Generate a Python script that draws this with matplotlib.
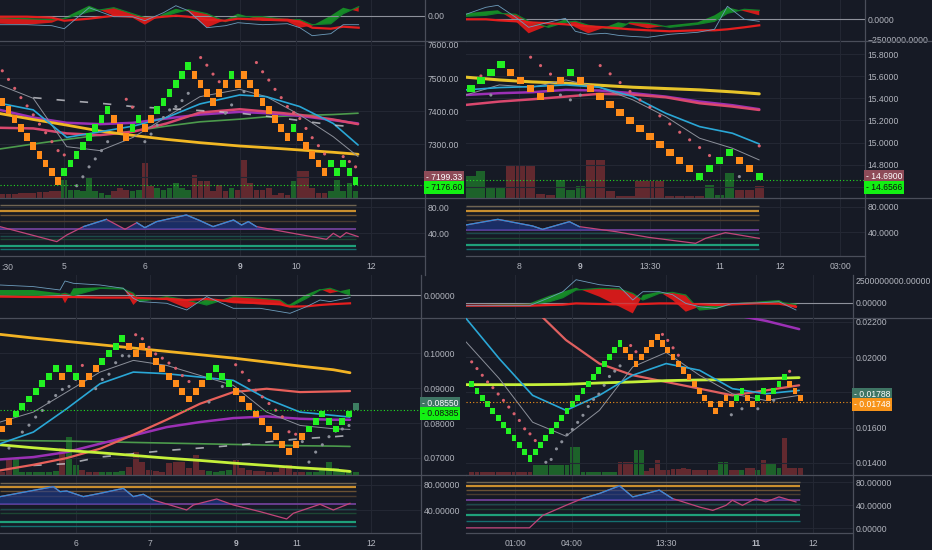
import numpy as np
import matplotlib
matplotlib.use("Agg")
import matplotlib.pyplot as plt
from matplotlib.lines import Line2D

nan = np.nan
W, H = 932, 550

BG = "#161a25"
GRID = "#232733"
SEP = "#4a4e5a"
TXT = "#b2b5be"
BRICK = {"g": "#22f022", "o": "#ff8c1a", "d": "#3d7e62"}
VOLC = {"g": "#1e6b2b", "o": "#6b2b31", "d": "#1e6b2b"}
PINK = "#d9606e"
GREYDOT = "#8b8f99"
BAND_COLORS = ["#6f6452", "#c98e2e", "#6b5234", "#4a3c30", "#6a3d8f",
               "#1c4a4a", "#1d4634", "#1fa07a", "#157070"]
BAND_LW = [1.0, 1.6, 1.0, 1.0, 1.4, 1.0, 1.0, 1.6, 1.0]

# ---------------- top left ----------------
tl_mid = [7429.0, 7402.3, 7375.6, 7348.9, 7322.2, 7295.5, 7268.8, 7242.1, 7215.4, 7188.7,
          7215.4, 7242.1, 7268.8, 7295.5, 7322.2, 7348.9, 7375.6, 7402.3,
          7375.6, 7348.9, 7322.2, 7348.9, 7375.6, 7348.9, 7375.6,
          7402.3, 7429.0, 7455.7, 7482.4, 7509.1, 7535.8,
          7509.1, 7482.4, 7455.7, 7429.0, 7455.7, 7482.4, 7509.1,
          7482.4, 7509.1, 7482.4, 7455.7, 7429.0, 7402.3, 7375.6, 7348.9, 7322.2,
          7348.9, 7322.2, 7295.5, 7268.8, 7242.1, 7215.4,
          7242.1, 7215.4, 7242.1, 7215.4, 7188.7]
tl_col = "oooooooooo" "gggggggg" "ooo" "gg" "oo" "gggggg" "oooo" "oog" "ooooooooo" "gooo" "oo" "ggggg"
tl_brick = 26.7
tl_sar = [7522, 7496, 7469, 7441, 7416, 7389, 7361, 7335, 7308, 7281, 7268, nan, 7175, 7202, 7232,
          7256, 7281, 7308, nan, nan, 7436, 7412, nan, 7308, 7331, 7358, 7381, 7404, 7414, 7432,
          7454, nan, 7562, 7539, 7512, 7489, 7394, 7419, nan, 7459, nan, 7547, 7519, 7494, 7466,
          7441, 7414, 7396, 7378, 7348, 7320, 7296, 7271, nan, nan, 7263, 7248, 7232]
tl_vol = [12, 12, 12, 14, 15, 15, 18, 18, 20, 20, 55, 25, 25, 20, 60, 20, 15, 10, 20, 30, 25, 20,
          25, 105, 35, 30, 25, 30, 45, 30, 25, 70, 50, 50, 20, 40, 20, 30, 25, 115, 45, 25, 25,
          30, 10, 15, 10, 50, 80, 80, 30, 15, 15, 20, 55, 20, 45, 20]
tl_ma_x = [-0.4, 5.0, 10.4, 15.8, 21.1, 26.5, 31.9, 38.3, 42.6, 48.0, 53.4, 57.4]
tl_ma_gold = [7393, 7375, 7358, 7340, 7327, 7315, 7305, 7295, 7290, 7283, 7276, 7270]
tl_ma_purple = [7404, 7381, 7365, 7361, 7365, 7378, 7390, 7398, 7394, 7386, 7373, 7363]
tl_ma_pink = [7350, 7348, 7333, 7328, 7338, 7363, 7396, 7406, 7399, 7389, 7375, 7361]
tl_ma_green = [7286, 7301, 7315, 7328, 7340, 7355, 7368, 7376, 7383, 7387, 7390, 7394]
tl_ma_blue = [7424, 7404, 7321, 7338, 7355, 7381, 7422, 7449, 7444, 7414, 7363, 7298]
tl_ma_grey = [7479, 7439, 7293, 7281, 7321, 7383, 7444, 7466, 7444, 7389, 7323, 7263]
tl_ma_white = [nan, 7441, 7432, 7424, 7414, 7408, 7402, 7394, 7385, 7372, 7358, 7352]
tl_macd_x = [-0.4, 4, 8, 10, 14, 18, 21, 23, 26, 28, 30, 33, 36, 38, 42, 46, 48, 50, 53, 55, 57.5]
tl_macd_f = [-8, -9, -7, -2, 10, 0, -2, -9, 2, 7, 4, -12, -4, 2, -5, -6, -12, -10, 0, 8, 4]
tl_macd_s = [-2, -3, -4, -3, 4, 8, 2, -2, -1, 3, 6, 2, -6, -1, -1, -4, -4, -9, -8, 2, 9]
tl_macd_r = [-1, -1, -2, -5, -3, 0, -1, -3, -1, 0, -1, -4, -5, -3, -4, -4, -6, -12, -13, -11, -12]
tl_macd_b = [-9, -9, -10, -13, 8, -1, -1, -5, 3, 10, 5, -12, -10, -7, -9, -8, -12, -20, -18, -9, -9]
tl_rsi_x = [-0.4, 8.8, 10.4, 13.1, 16.8, 19.8, 21.7, 23.0, 24.9, 29.7, 31.9, 34.0, 37.3, 38.6,
            39.7, 41.0, 46.9, 52.3, 53.4, 54.5, 55.5, 57.4]
tl_rsi = [50.3, 27.2, 37.4, 50.3, 61.5, 46.2, 56.4, 48.7, 58.0, 68.2, 59.5, 50.3, 60.5, 52.8,
          58.0, 50.3, 40.0, 30.8, 40.0, 33.8, 41.0, 34.9]
tl_bands = [83.5, 74.8, 68, 59.4, 46.6, 35.8, 30.8, 20.5, 15.4]
tl_xt = [9.95, 23.0, 38.3, 47.4, 59.5]
tl_xl = ["5", "6", "9", "10", "12"]

# ---------------- top right ----------------
tr_mid = [15.486, 15.5585, 15.631, 15.7035, 15.631, 15.5585, 15.486, 15.4135, 15.486, 15.5585,
          15.631, 15.5585, 15.486, 15.4135, 15.341, 15.2685, 15.196, 15.1235, 15.051, 14.9785,
          14.906, 14.8335, 14.761, 14.6885, 14.761, 14.8335, 14.906, 14.8335, 14.761, 14.6885]
tr_col = "gggg" "ooooo" "o" "g" "oooooooooooo" "gggg" "oo" "g"
tr_vcol = "gggg" "ooooo" "ggg" "oooooooooooo" "ggg" "ooo"
tr_brick = 0.0725
tr_sar = [nan, 15.603, 15.43, nan, nan, nan, 15.773, 15.697, 15.62, 15.43, 15.386, 15.43, nan,
          15.697, 15.622, 15.543, 15.462, 15.386, 15.320, 15.241, 15.168, 15.093, 15.024,
          14.954, 14.882, nan, nan, 14.691, nan, 14.969]
tr_vol = [65, 80, 30, 30, 95, 95, 95, 12, 10, 55, 25, 35, 115, 115, 20, 5, 5, 50, 50, 50, 5, 5,
          5, 5, 40, 10, 75, 25, 25, 35]
tr_ma_x = [-0.5, 2.85, 6.2, 9.55, 12.9, 16.3, 19.6, 23.0, 26.3, 29.0]
tr_ma_gold = [15.592, 15.567, 15.549, 15.537, 15.519, 15.501, 15.489, 15.477, 15.459, 15.441]
tr_ma_purple = [15.431, 15.447, 15.456, 15.477, 15.471, 15.447, 15.416, 15.371, 15.338, 15.302]
tr_ma_pink = [15.341, 15.371, 15.392, 15.416, 15.441, 15.434, 15.410, 15.356, 15.326, 15.295]
tr_ma_blue = [15.477, 15.498, 15.507, 15.522, 15.501, 15.416, 15.265, 15.144, 15.084, 14.987]
tr_ma_grey = [15.431, 15.522, 15.501, 15.567, 15.501, 15.386, 15.235, 15.039, 14.948, 14.842]
tr_macd_x = [-0.5, 1.5, 2.7, 4.5, 5.8, 7.8, 9.5, 10.5, 11.8, 13.5, 14.8, 16, 17.8, 20, 22.8,
             24.5, 25.8, 27.5, 29]
tr_macd_f = [6, 8, 9, -2, -14, -6, 0, -8, -14, -8, -3, -5, -9, -6, -3, 4, 12, 8, 4]
tr_macd_s = [3, 4, 6, 5, -2, -8, -3, -2, -6, -9, -10, -3, -4, -8, -5, -2, 6, 10, 9]
tr_macd_r = [0, 0, -1, -2, -3, -4, -5, -6, -7, -8, -9, -10, -11, -12, -11, -11, -10, -8, -6]
tr_macd_b = [5, 12, 14, 2, -8, -3, 1, -12, -15, -14, -16, -17, -18, -15, -13, -10, 13, 0, -2]
tr_rsi_x = [-0.5, 2.7, 6.2, 7.2, 9.9, 10.9, 14.6, 17.9, 22.6, 23.6, 25.6, 29.0]
tr_rsi = [51.6, 60.5, 50.0, 44.7, 56.8, 49.0, 41.0, 32.0, 22.6, 30.5, 39.5, 30.5]
tr_bands = [82, 74.2, 67.4, 59.5, 43.7, 38.4, 30.5, 20, 14]
tr_xt = [4.83, 10.97, 18.04, 25.08, 31.09, 37.15]
tr_xl = ["8", "9", "13:30", "11", "12", "03:00"]

# ---------------- bottom left ----------------
bl_mid = [0.07828, 0.08044, 0.08260, 0.08476, 0.08692, 0.08908, 0.09124, 0.09340, 0.09556,
          0.09340, 0.09556, 0.09340, 0.09124, 0.09340, 0.09556, 0.09772, 0.09988, 0.10204,
          0.10420, 0.10204, 0.09988, 0.10204, 0.09988, 0.09772, 0.09556, 0.09340, 0.09124,
          0.08908, 0.08692, 0.08908, 0.09124, 0.09340, 0.09556, 0.09340, 0.09124, 0.08908,
          0.08692, 0.08476, 0.08260, 0.08044, 0.07828, 0.07612, 0.07396, 0.07180, 0.07396,
          0.07612, 0.07828, 0.08044, 0.08260, 0.08044, 0.07828, 0.08044, 0.08260, 0.08476]
bl_col = "oo" "ggggggg" "o" "gg" "ooo" "gggg" "oooooooooooo" "gggg" "ooooooooooo" "ggggggg" "d"
bl_brick = 0.00216
bl_sar = [nan, 0.07284, nan, 0.07742, 0.0794, 0.08172, 0.08363, 0.08602, 0.0879, 0.08965,
          0.0905, 0.0925, 0.09652, nan, 0.08985, 0.0925, 0.0940, 0.09729, 0.0993, 0.0992,
          0.10531, 0.10416, 0.1017, 0.0998, 0.0986, 0.0972, 0.0957, 0.0936, 0.0919, nan, nan,
          0.08602, nan, 0.0905, nan, 0.09671, 0.0946, 0.0922, 0.0894, 0.0875, 0.0856, 0.0837,
          0.0818, 0.0775, 0.0768, 0.0747, 0.06883, 0.07169, 0.07379, 0.0761, 0.0777, 0.0783,
          0.0793, nan]
bl_vol = [10, 50, 50, 10, 8, 8, 8, 8, 12, 80, 115, 30, 15, 10, 10, 10, 10, 10, 12, 25, 70, 40,
          15, 12, 10, 35, 40, 38, 20, 60, 15, 12, 10, 12, 15, 45, 20, 15, 12, 12, 10, 10, 25, 30,
          10, 8, 8, 10, 15, 40, 20, 12, 12, 10]
bl_ma_x = [-0.35, 4.65, 9.65, 14.65, 19.65, 24.65, 29.65, 34.65, 39.65, 44.65, 49.65, 52.15]
bl_ma_gold = [0.10541, 0.10436, 0.1034, 0.10245, 0.10149, 0.10054, 0.09958, 0.09862, 0.09748,
              0.09633, 0.09528, 0.09442]
bl_ma_lime = [0.07379, 0.07293, 0.07217, 0.0715, 0.07074, 0.06997, 0.0693, 0.06854, 0.06787,
              0.0672, 0.06663, 0.06615]
bl_ma_salmon = [0.06644, 0.06806, 0.06997, 0.07265, 0.07666, 0.08096, 0.08554, 0.08888, 0.08984,
                0.08888, 0.08907, 0.08917]
bl_ma_purple = [0.06959, 0.07026, 0.07169, 0.07408, 0.07647, 0.07885, 0.08029, 0.08143, 0.08191,
                0.08124, 0.08096, 0.08096]
bl_ma_green = [0.07503, 0.07494, 0.07484, 0.07465, 0.07446, 0.07427, 0.07408, 0.07389, 0.0737,
               0.07351, 0.07341, 0.07331]
bl_ma_blue = [0.07408, 0.07742, 0.08411, 0.09127, 0.09461, 0.09414, 0.09318, 0.09223, 0.08697,
              0.08315, 0.0822, 0.08172]
bl_ma_grey = [0.08029, 0.08315, 0.08888, 0.09461, 0.09796, 0.09652, 0.09366, 0.09079, 0.08315,
              0.07933, 0.07838, 0.07819]
bl_ma_white = [nan, 0.06787, 0.06835, 0.07026, 0.07122, 0.07217, 0.07284, 0.0736, 0.07456,
               0.07551, 0.07608, 0.07647]
bl_macd_x = [-0.35, 4.65, 8.65, 9.4, 10.65, 14.65, 18.15, 19.65, 20.65, 24.65, 27.65, 30.65,
             34.65, 38.65, 41.65, 43.15, 45.65, 47.65, 49.15, 52.15]
bl_macd_f = [5.3, 5.3, 2, -8, 7, 8, 7.7, -9.7, -3, -4.7, -13, -3.7, -8, -9, -9.7, -9, 1, 6.3, 2, 6.3]
bl_macd_s = [0.3, -0.3, 1, 2, -0.3, 7, 6.3, 2, -6.3, -1.3, -4.7, -9.7, -1.3, -3, -4.7, -11.3, -3,
             5.3, 7, 0.3]
bl_macd_r = [-1.3, -1.7, -1.7, -1.7, -1.7, -2.3, -2.3, -2.3, -2.7, -3.7, -4.7, -3.7, -6.3, -8, -9,
             -11.3, -11, -9.7, -9, -8]
bl_macd_b = [10.3, 8.7, 5.3, 14.3, 12, 10.3, 7, -3, -6.3, -8, -14.7, -1.3, -13, -13, -16.3, -18,
             -11.3, -4.7, -6.3, -2.3]
bl_rsi_x = [-0.35, 7.65, 8.65, 9.65, 12.15, 14.65, 18.15, 19.65, 21.15, 22.65, 27.65, 28.65,
            32.15, 34.65, 38.65, 42.65, 43.65, 47.65, 49.65, 52.15]
bl_rsi = [61.6, 77.4, 69.5, 70.5, 61.6, 66.8, 74.7, 61.6, 65.3, 56.3, 40.5, 48.4, 57.9, 48.4,
          37.9, 26.3, 35.3, 49.5, 40.5, 51.0]
bl_bands = [83, 76.3, 70, 62.6, 49.5, 42, 35, 22.1, 15.8]
bl_xt = [11.05, 22.1, 35.0, 44.2, 55.3]
bl_xl = ["6", "7", "9", "11", "12"]

# ---------------- bottom right ----------------
br_mid = [0.018469, 0.018086, 0.017703, 0.017320, 0.016937, 0.016554, 0.016171, 0.015788,
          0.015405, 0.015022, 0.014639, 0.014256,
          0.014639, 0.015022, 0.015405, 0.015788, 0.016171, 0.016554, 0.016937, 0.017320,
          0.017703, 0.018086, 0.018469, 0.018852, 0.019235, 0.019618, 0.020001, 0.020384,
          0.020767,
          0.020384, 0.020001, 0.019618, 0.020001, 0.020384, 0.020767, 0.021150,
          0.020767, 0.020384, 0.020001, 0.019618, 0.019235, 0.018852, 0.018469, 0.018086,
          0.017703, 0.017320, 0.016937,
          0.017320, 0.017703, 0.017320, 0.017703, 0.018086, 0.017703, 0.017320, 0.017703,
          0.018086, 0.017703, 0.018086, 0.018469, 0.018852, 0.018469, 0.018086, 0.017703]
br_col = "g" * 29 + "ooo" + "oooo" + "o" * 11 + "ooogg" "oogg" "oggg" "ooo"
br_vcol = "o" * 12 + "g" * 16 + "ooo" "gg" "ooo" + "o" * 11 + "gg" "oo" "g" "oo" "g" "o" "ggg" "oooo"
br_brick = 0.000383
br_sar = [0.019725, 0.019346, 0.018967, 0.018588, 0.018265, 0.017905, 0.017545, 0.017166,
          0.016787, 0.016408, 0.015934, 0.015649, 0.015270,
          nan, 0.01404, 0.0142, 0.0148, 0.0152, 0.0156, 0.0159, 0.0163, 0.0167, 0.0172, 0.0176,
          0.0179, 0.0184, 0.0189, 0.0192, 0.0195,
          nan, 0.02065, 0.0203, nan, nan, nan, nan,
          0.02128, 0.02094, 0.02052, 0.0201, nan, nan, nan, nan, nan, nan, nan,
          nan, nan, 0.01673, nan, 0.01707, nan, nan, 0.01707, nan, nan, 0.01755, nan, nan,
          0.01919, nan, nan]
br_vol = [8] * 12 + [30] * 7 + [85, 85] + [10] * 7 + [40, 40, 40, 75, 75, 12, 20, 45] + \
         [15, 15, 18, 18, 20, 18, 15, 15, 15, 15, 15] + \
         [40, 40, 15, 15, 15, 20, 20, 15, 45, 35, 35, 20, 110, 20, 20, 20]
br_ma_x = [-1.07, 5.2, 11.5, 17.8, 24.1, 30.4, 36.7, 43.0, 49.2, 55.5, 61.8]
br_ma_lime = [0.018436, 0.018436, 0.018436, 0.018455, 0.018531, 0.018588, 0.018664, 0.018701,
              0.01872, 0.018777, 0.018834]
br_ma_salmon = [nan, nan, 0.0228, 0.02096, 0.01963, 0.01897, 0.01859, 0.01821, 0.01783,
                0.01811, 0.0184]
br_ma_purple = [nan, nan, nan, nan, nan, nan, nan, nan, 0.0224, 0.02205, 0.02158]
br_ma_blue = [0.02219, 0.01991, 0.01783, 0.01698, 0.01783, 0.01897, 0.01963, 0.01925, 0.01821,
              0.01792, 0.01811]
br_ma_grey = [0.02086, 0.01878, 0.01631, 0.01552, 0.01698, 0.01944, 0.02026, 0.01897, 0.01792,
              0.01754, 0.01783]
br_macd_x = [-1.07, 10.9, 14.65, 17.2, 19.7, 24.1, 27.9, 30.4, 32.3, 35.4, 37.9, 40.4, 43.0,
             46.1, 49.2, 53.6, 58.0, 61.2]
br_macd_f = [-3, -0.7, 7, 11, 15, 6, -4, -10.7, 7.7, 11, 2.7, -9, -4, -1.7, -0.7, 1, 2.7, -5.7]
br_macd_s = [-3, -1.7, 1, 5, 12.7, 14.3, 13.7, 9.3, 2.7, 9.3, 10.3, 7.7, -7.3, -5.7, -1, -0.3,
             0.3, -1.7]
br_macd_r = [-3, -3, -2.3, -2, -0.7, -1.3, -1.7, -1.7, -1.3, -0.7, -0.7, -1, -1.7, -2.3, -1.7,
             -0.7, -1, -4]
br_macd_b = [-3, -3, 5, 11, 23, 18, 16, 2.7, 11, 11, 8, -0.7, -4, -5.7, -0.7, -0.3, 1, -7.3]
br_rsi_x = [-1.07, 10.9, 13.4, 17.8, 20.9, 24.1, 27.9, 30.4, 34.2, 35.4, 37.9, 43.0, 45.5, 48.0,
            49.2, 51.1, 53.6, 55.5, 58.0, 61.2]
br_rsi = [0.8, 0.8, 22.4, 40.0, 51.8, 60.6, 74.0, 54.7, 63.5, 66.5, 51.8, 37.0, 31.2, 40.0,
          48.8, 40.0, 51.8, 45.9, 54.7, 45.9]
br_bands = [81, 73.5, 66.5, 59, 48.8, 42, 33, 22.4, 13.5]
br_xt = [8.2, 18.9, 36.7, 53.6, 64.4]
br_xl = ["01:00", "04:00", "13:30", "11", "12"]

plt.rcParams["font.family"] = ["Liberation Sans", "DejaVu Sans"]
plt.rcParams["font.size"] = 6.2

fig = plt.figure(figsize=(W / 100, H / 100), dpi=100, facecolor=BG)


def rect(x, y, w, h):
    return [x / W, 1 - (y + h) / H, w / W, h / H]


def fline(xa, ya, xb, yb):
    fig.add_artist(Line2D([xa / W, xb / W], [1 - ya / H, 1 - yb / H], color=SEP, lw=0.9))


def bare(ax, xlim, ylim):
    ax.set_xlim(*xlim)
    ax.set_ylim(*ylim)
    ax.patch.set_alpha(0)
    for s in ax.spines.values():
        s.set_visible(False)
    ax.yaxis.tick_right()
    ax.tick_params(axis="both", length=0, colors=TXT, labelsize=6.2)
    ax.tick_params(axis="y", pad=2)
    ax.tick_params(axis="x", labelbottom=False)


def draw_quad(q):
    x0, y0, w, hm = q["x0"], q["y0"], q["w"], q["hm"]
    n = len(q["mid"])
    idx = np.arange(n)
    xlim = q["xlim"]

    # macd panel
    am = fig.add_axes(rect(x0, y0, w, hm))
    bare(am, xlim, q["macd_ylim"])
    mx = np.array(q["macd"][0])
    f, s, r, b = [np.array(v, float) for v in q["macd"][1:]]
    for t in q["xt"]:
        am.axvline(t, color=GRID, lw=0.8, zorder=0)
    am.fill_between(mx, f, s, where=f >= s, interpolate=True, color="#168a26", lw=0, zorder=1)
    am.fill_between(mx, f, s, where=f < s, interpolate=True, color="#d11a1a", lw=0, zorder=1)
    am.plot(mx, s, color="#12802a", lw=0.9, zorder=2)
    am.plot(mx, r, color="#e41e1e", lw=1.6, zorder=2)
    am.plot(mx, b, color="#6d9cbc", lw=0.6, zorder=3)
    am.axhline(0, color="#8e919b", lw=0.8, zorder=1.5)
    am.set_yticks(q["macd_ticks"])
    am.set_yticklabels(q["macd_labels"])

    # main panel with volume underneath
    ymain = y0 + hm
    av = fig.add_axes(rect(x0, ymain, w, 157))
    av.set_zorder(1)
    av.set_xlim(*xlim)
    av.set_ylim(0, 471)
    av.axis("off")
    av.bar(idx, q["vol"], width=0.92, color=[VOLC[c] for c in q["vcol"]], lw=0, alpha=0.9)

    ax = fig.add_axes(rect(x0, ymain, w, 157))
    ax.set_zorder(2)
    bare(ax, xlim, q["ylim"])
    for t in q["grid"]:
        ax.axhline(t, color=GRID, lw=0.8, zorder=0.5)
    for t in q["xt"]:
        ax.axvline(t, color=GRID, lw=0.8, zorder=0.5)
    ax.set_yticks(q["yticks"])
    ax.set_yticklabels([q["fmt"] % t for t in q["yticks"]])

    for ys, c, lw, dashed in q["mas"]:
        ln, = ax.plot(q["ma_x"], ys, color=c, lw=lw, zorder=2, solid_capstyle="round")
        if dashed:
            ln.set_dashes((5, 9))
            ln.set_alpha(0.75)

    mid = np.array(q["mid"], float)
    sar = np.array(q["sar"], float)
    m = ~np.isnan(sar)
    ax.scatter(idx[m], sar[m], s=5, linewidths=0, zorder=3,
               c=[PINK if sv > mv else GREYDOT for sv, mv in zip(sar[m], mid[m])])

    bh = q["brick"] * 0.9
    ax.bar(idx, bh, bottom=mid - bh / 2, width=q["bw"], color=[BRICK[c] for c in q["col"]],
           lw=0, zorder=4)

    ax.axhline(q["last"], color=q["last_col"], lw=0.8, ls=(0, (1, 2)), zorder=5)
    trans = ax.get_yaxis_transform()
    for txt, val, fc, tc, dy in q["labels"]:
        ax.annotate("- " + txt, xy=(1, val), xycoords=trans, xytext=(0.5, dy * 0.72),
                    textcoords="offset points", ha="left", va="center", fontsize=6.2,
                    color=tc, annotation_clip=False, zorder=10,
                    bbox=dict(boxstyle="square,pad=0.25", fc=fc, ec="none"))

    # rsi panel
    yr = ymain + 157
    ar = fig.add_axes(rect(x0, yr, w, 58))
    bare(ar, xlim, q["rsi_ylim"])
    for t in q["xt"]:
        ar.axvline(t, color=GRID, lw=0.8, zorder=0)
    for t in q["rsi_ticks"]:
        ar.axhline(t, color=GRID, lw=0.8, zorder=0)
    for v, c, lw in zip(q["bands"], BAND_COLORS, BAND_LW):
        ar.hlines(v, xlim[0], n - 1, colors=c, lw=lw, zorder=1)
    rx = np.array(q["rsi_x"])
    rv = np.array(q["rsi"], float)
    lvl = q["bands"][4]
    ar.fill_between(rx, rv, lvl, where=rv >= lvl, interpolate=True, color="#1f3f9a",
                    alpha=0.55, lw=0, zorder=1.5)
    ar.plot(rx, rv, color="#c2457a", lw=0.9, zorder=2)
    ar.plot(rx, np.where(rv >= lvl, rv, nan), color="#2f8fd8", lw=0.9, zorder=2.5)
    ar.set_yticks(q["rsi_ticks"])
    ar.set_yticklabels([q["rsi_fmt"] % t for t in q["rsi_ticks"]])
    ar.tick_params(axis="x", labelbottom=True, pad=4.5)
    ar.set_xticks(q["xt"])
    ar.set_xticklabels(q["xl"])
    for lab in ar.get_xticklabels():
        if lab.get_text() == q["bold"]:
            lab.set_fontweight("bold")
    if q.get("edge"):
        ar.text(0.002, -0.2, q["edge"], transform=ar.transAxes,
                ha="left", va="center", color=TXT, fontsize=6.2)

    # separators and border
    right = x0 + 466
    fline(x0, ymain, right, ymain)
    fline(x0, yr, right, yr)
    fline(x0, yr + 58, x0 + w, yr + 58)
    fline(x0 + w, y0, x0 + w, y0 + 275)


def mas_std(ma_x, gold, purple, pink, green, blue, grey, white, gold_c="#f2b824"):
    out = [(green, "#4c9a4c", 1.2, False), (purple, "#9b30b5", 1.8, False),
           (pink, "#d9486e", 1.8, False), (gold, gold_c, 2.0, False),
           (grey, "#8c909a", 0.7, False), (blue, "#2aa7d6", 1.2, False)]
    if white is not None:
        out.append((white, "#d5d6dc", 1.2, True))
    return out


quads = [
    dict(x0=0, y0=0, w=425, hm=41, xlim=(-0.37, 68.2), mid=tl_mid, col=tl_col, vcol=tl_col,
         brick=tl_brick, bw=0.9, sar=tl_sar, vol=tl_vol, ma_x=tl_ma_x,
         mas=mas_std(tl_ma_x, tl_ma_gold, tl_ma_purple, tl_ma_pink, tl_ma_green, tl_ma_blue,
                     tl_ma_grey, tl_ma_white),
         ylim=(7138, 7612), grid=[7200, 7300, 7400, 7500, 7600], yticks=[7300, 7400, 7500, 7600],
         fmt="%.2f",
         macd=(tl_macd_x, tl_macd_f, tl_macd_s, tl_macd_r, tl_macd_b), macd_ylim=(-25.3, 15.7),
         macd_ticks=[0], macd_labels=["0.00"],
         last=7176.6, last_col="#22dd22",
         labels=[("7199.33", 7199.33, "#8e4b58", "white", 0),
                 ("7176.60", 7176.60, "#13f013", "#101010", -2.5)],
         rsi_x=tl_rsi_x, rsi=tl_rsi, bands=tl_bands, rsi_ylim=(5.1, 94.3), rsi_ticks=[40, 80],
         rsi_fmt="%.2f", xt=tl_xt, xl=tl_xl, bold="9", edge=":30"),
    dict(x0=466, y0=0, w=399, hm=41, xlim=(-0.5, 39.64), mid=tr_mid, col=tr_col, vcol=tr_vcol,
         brick=tr_brick, bw=0.75, sar=tr_sar, vol=tr_vol, ma_x=tr_ma_x,
         mas=[(tr_ma_purple, "#9b30b5", 1.8, False), (tr_ma_pink, "#d9486e", 1.8, False),
              (tr_ma_gold, "#e6c42a", 2.2, False), (tr_ma_grey, "#8c909a", 0.7, False),
              (tr_ma_blue, "#2aa7d6", 1.2, False)],
         ylim=(14.497, 15.92), grid=[14.6, 14.8, 15.0, 15.2, 15.4, 15.6, 15.8],
         yticks=[14.8, 15.0, 15.2, 15.4, 15.6, 15.8], fmt="%.4f",
         macd=(tr_macd_x, tr_macd_f, tr_macd_s, tr_macd_r, tr_macd_b), macd_ylim=(-21.7, 19.3),
         macd_ticks=[-20, 0], macd_labels=["\u22122500000.0000", "0.0000"],
         last=14.6566, last_col="#22dd22",
         labels=[("14.6900", 14.69, "#8e4b58", "white", 0),
                 ("14.6566", 14.6566, "#13f013", "#101010", -7)],
         rsi_x=tr_rsi_x, rsi=tr_rsi, bands=tr_bands, rsi_ylim=(2.6, 94.2), rsi_ticks=[40, 80],
         rsi_fmt="%.4f", xt=tr_xt, xl=tr_xl, bold="9"),
    dict(x0=0, y0=275, w=421, hm=43, xlim=(-0.35, 62.8), mid=bl_mid, col=bl_col, vcol=bl_col,
         brick=bl_brick, bw=0.88, sar=bl_sar, vol=bl_vol, ma_x=bl_ma_x,
         mas=[(bl_ma_green, "#4c9a4c", 1.2, False), (bl_ma_white, "#d5d6dc", 1.2, True),
              (bl_ma_purple, "#9b30b5", 1.8, False), (bl_ma_salmon, "#e8605a", 1.6, False),
              (bl_ma_lime, "#c5f03a", 2.0, False), (bl_ma_gold, "#f2b324", 2.0, False),
              (bl_ma_grey, "#8c909a", 0.7, False), (bl_ma_blue, "#2aa7d6", 1.2, False)],
         ylim=(0.06513, 0.1101), grid=[0.07, 0.08, 0.09, 0.10], yticks=[0.07, 0.08, 0.09, 0.10],
         fmt="%.5f",
         macd=(bl_macd_x, bl_macd_f, bl_macd_s, bl_macd_r, bl_macd_b), macd_ylim=(-22.7, 20.3),
         macd_ticks=[0], macd_labels=["0.00000"],
         last=0.08385, last_col="#22dd22",
         labels=[("0.08550", 0.0855, "#3f7564", "white", 0),
                 ("0.08385", 0.08385, "#13f013", "#101010", -3.6)],
         rsi_x=bl_rsi_x, rsi=bl_rsi, bands=bl_bands, rsi_ylim=(4.1, 95.8), rsi_ticks=[40, 80],
         rsi_fmt="%.5f", xt=bl_xt, xl=bl_xl, bold="9"),
    dict(x0=466, y0=275, w=387, hm=43, xlim=(-1.07, 71.96), mid=br_mid, col=br_col, vcol=br_vcol,
         brick=br_brick, bw=0.9, sar=br_sar, vol=br_vol, ma_x=br_ma_x,
         mas=[(br_ma_purple, "#9b30b5", 1.8, False), (br_ma_salmon, "#e06060", 1.6, False),
              (br_ma_lime, "#c5f03a", 2.0, False), (br_ma_grey, "#8c909a", 0.7, False),
              (br_ma_blue, "#2aa7d6", 1.2, False)],
         ylim=(0.01332, 0.02221), grid=[0.014, 0.016, 0.018, 0.020, 0.022],
         yticks=[0.014, 0.016, 0.020, 0.022], fmt="%.5f",
         macd=(br_macd_x, br_macd_f, br_macd_s, br_macd_r, br_macd_b), macd_ylim=(-15.3, 27.7),
         macd_ticks=[0, 21.7], macd_labels=["0.00000", "2500000000.00000"],
         last=0.01748, last_col="#f7931a",
         labels=[("0.01788", 0.01788, "#3f7564", "white", 0),
                 ("0.01748", 0.01748, "#f7931a", "white", -3)],
         rsi_x=br_rsi_x, rsi=br_rsi, bands=br_bands, rsi_ylim=(-8.2, 92.8), rsi_ticks=[0, 40, 80],
         rsi_fmt="%.5f", xt=br_xt, xl=br_xl, bold="11"),
]

for q in quads:
    draw_quad(q)

fig.savefig("out.png", dpi=100, facecolor=BG)
